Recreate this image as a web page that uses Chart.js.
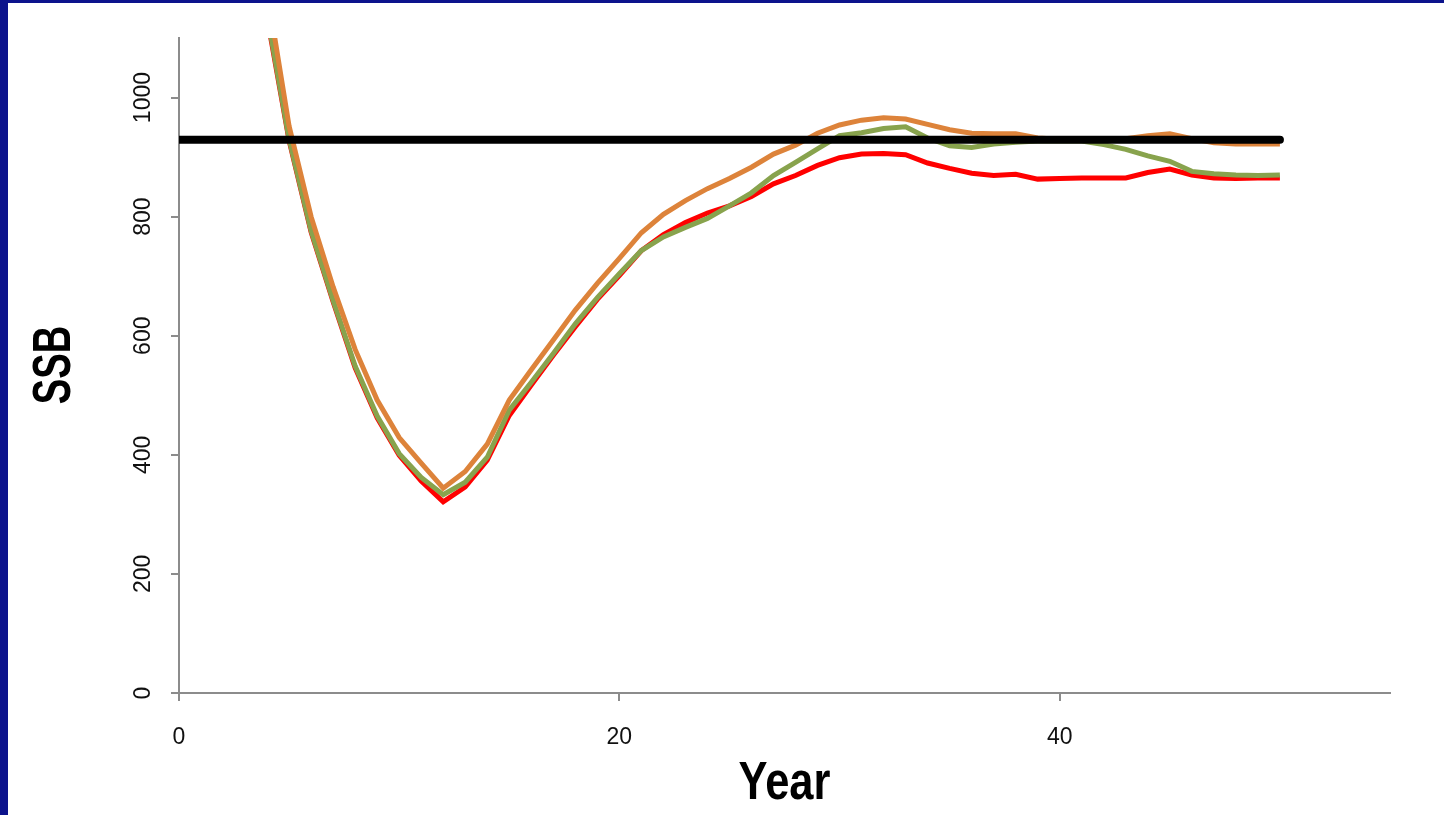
<!DOCTYPE html>
<html>
<head>
<meta charset="utf-8">
<title>SSB by year</title>
<script src="https://cdn.jsdelivr.net/npm/chart.js@4.4.1/dist/chart.umd.min.js"></script>
<style>
  html, body { margin: 0; padding: 0; }
  body { width: 1444px; height: 815px; background: #0c138c; position: relative; overflow: hidden; }
  #frame { position: absolute; left: 8px; top: 3px; width: 1436px; height: 812px; background: #fff; }
  #chart { display: block; }
</style>
</head>
<body>
<div id="frame"><canvas id="chart" width="1436" height="812"></canvas></div>
<script>
/* SSB trajectories for three runs against a fixed reference level. */
(function () {
  "use strict";

  var YEARS = [1, 2, 3, 4, 5, 6, 7, 8, 9, 10, 11, 12, 13, 14, 15, 16, 17, 18, 19, 20,
               21, 22, 23, 24, 25, 26, 27, 28, 29, 30, 31, 32, 33, 34, 35, 36, 37, 38, 39, 40,
               41, 42, 43, 44, 45, 46, 47, 48, 49, 50];

  var SSB_ORANGE = [2330, 1850, 1480, 1180, 952, 800, 682, 577, 492, 429, 386, 344, 372, 418, 492, 543, 593, 643, 688, 730,
                    773, 804, 827, 847, 864, 883, 905, 920, 940, 954, 962, 966, 964, 955, 946, 940, 939, 939, 932, 930,
                    930, 930, 931, 936, 939, 931, 924, 922, 922, 922];

  var SSB_GREEN = [2250, 1780, 1420, 1140, 930, 776, 659, 549, 465, 402, 362, 333, 354, 396, 475, 522, 570, 620, 664, 704,
                   743, 766, 782, 797, 818, 840, 869, 891, 914, 936, 941, 948, 951, 932, 919, 916, 922, 925, 927, 927,
                   927, 921, 913, 902, 893, 876, 872, 870, 869, 870];

  var SSB_RED = [2230, 1770, 1410, 1135, 928, 774, 657, 546, 462, 399, 356, 321, 346, 391, 466, 517, 567, 615, 661, 701,
                 743, 770, 790, 806, 818, 834, 855, 869, 886, 899, 905, 906, 904, 890, 881, 873, 869, 871, 863, 864,
                 865, 865, 865, 874, 880, 870, 865, 864, 865, 865];

  var REF_YEARS = [0, 50];
  var REF_LEVEL = 929;

  var X_TICKS = [0, 20, 40];
  var Y_TICKS = [0, 200, 400, 600, 800, 1000];

  var X_TITLE = "Year";
  var Y_TITLE = "SSB";

  var PALETTE = {
    orange: "#dd833a",
    green: "#88a34d",
    red: "#ff0000",
    ref: "#000000",
    axis: "#8c8c8c",
    text: "#111111"
  };

  var TITLE_FONT = "bold 53px 'Liberation Sans', Arial, sans-serif";
  var TICK_FONT = "'Liberation Sans', Arial, sans-serif";

  function points(xs, ys) {
    return xs.map(function (x, i) { return { x: x, y: ys[i] }; });
  }

  function series(label, values, color, order) {
    return {
      label: label,
      data: points(YEARS, values),
      borderColor: color,
      backgroundColor: color,
      borderWidth: 5,
      pointRadius: 0,
      tension: 0,
      order: order
    };
  }

  var refLine = {
    label: "Reference",
    data: REF_YEARS.map(function (x) { return { x: x, y: REF_LEVEL }; }),
    borderColor: PALETTE.ref,
    backgroundColor: PALETTE.ref,
    borderWidth: 8,
    borderCapStyle: "round",
    pointRadius: 0,
    order: 0
  };

  function fixedTicks(list) {
    return function (scale) { scale.ticks = list.map(function (v) { return { value: v }; }); };
  }

  // The original titles use a condensed bold face; squeeze Liberation Sans Bold to match.
  var condensedTitles = {
    id: "condensedTitles",
    afterDraw: function (chart) {
      var c = chart.ctx, area = chart.chartArea;
      c.save();
      c.fillStyle = "#000";
      c.font = TITLE_FONT;
      c.textAlign = "center";
      c.textBaseline = "alphabetic";

      c.save();
      c.translate((area.left + area.right) / 2, 796);
      c.scale(0.82, 1);
      c.fillText(X_TITLE, 0, 0);
      c.restore();

      c.save();
      c.translate(62, 362);
      c.rotate(-Math.PI / 2);
      c.scale(0.72, 1);
      c.fillText(Y_TITLE, 0, 0);
      c.restore();

      c.restore();
    }
  };

  new Chart(document.getElementById("chart").getContext("2d"), {
    type: "line",
    data: {
      datasets: [
        refLine,
        series("Run A", SSB_ORANGE, PALETTE.orange, 1),
        series("Run B", SSB_GREEN, PALETTE.green, 2),
        series("Run C", SSB_RED, PALETTE.red, 3)
      ]
    },
    options: {
      responsive: false,
      animation: false,
      devicePixelRatio: 1,
      layout: { padding: { top: 35, right: 54, left: 0, bottom: 0 } },
      plugins: { legend: { display: false }, tooltip: { enabled: false } },
      scales: {
        x: {
          type: "linear",
          min: 0,
          max: 55,
          afterBuildTicks: fixedTicks(X_TICKS),
          afterFit: function (s) { s.height = 122; },
          border: { display: true, color: PALETTE.axis, width: 2 },
          grid: { drawOnChartArea: false, drawTicks: true, tickLength: 8, color: PALETTE.axis, lineWidth: 2 },
          ticks: {
            color: PALETTE.text,
            font: { family: TICK_FONT, size: 23 },
            padding: 23,
            maxRotation: 0,
            callback: function (v) { return String(v); }
          }
        },
        y: {
          type: "linear",
          min: 0,
          max: 1100,
          afterBuildTicks: fixedTicks(Y_TICKS),
          afterFit: function (s) { s.width = 171; },
          border: { display: true, color: PALETTE.axis, width: 2 },
          grid: { drawOnChartArea: false, drawTicks: true, tickLength: 8, color: PALETTE.axis, lineWidth: 2 },
          ticks: {
            color: PALETTE.text,
            font: { family: TICK_FONT, size: 23 },
            minRotation: 90,
            maxRotation: 90,
            crossAlign: "center",
            padding: 2,
            callback: function (v) { return String(v); }
          }
        }
      }
    },
    plugins: [condensedTitles]
  });
})();
</script>
</body>
</html>
